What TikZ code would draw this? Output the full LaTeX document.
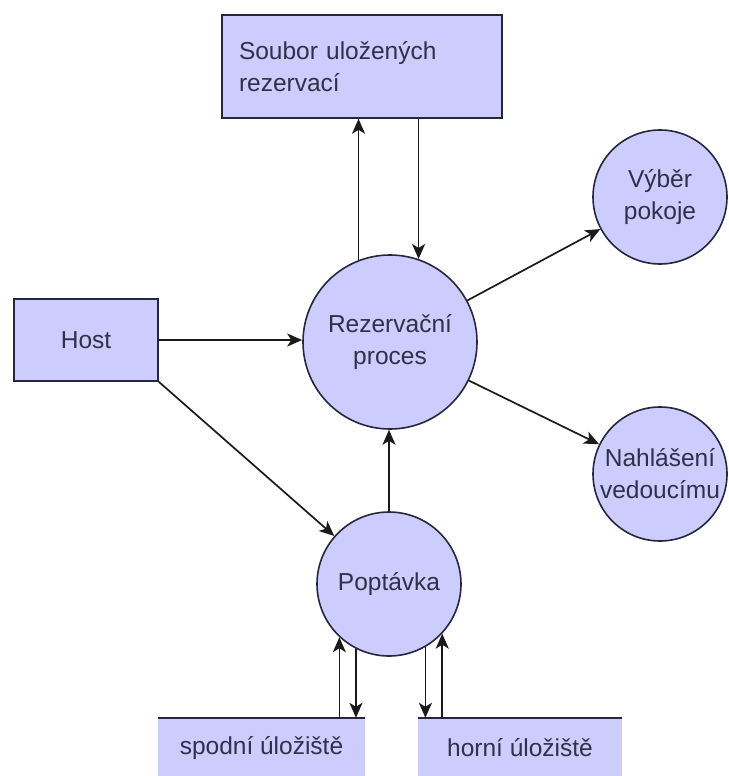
\documentclass[tikz,border=0pt]{standalone}
\usepackage{fontspec}
\setmainfont{Liberation Sans}
\usetikzlibrary{arrows.meta}
\definecolor{boxfill}{HTML}{CCCCFF}
\definecolor{boxline}{HTML}{26263E}
\definecolor{labeltext}{HTML}{303048}
\definecolor{flowline}{HTML}{1A1A1A}
\tikzset{
  lbl/.style={font=\fontsize{24.5}{32}\selectfont, text=labeltext, align=center},
  proc/.style={lbl, circle, draw=boxline, fill=boxfill, line width=1.6pt, inner sep=0pt},
  entity/.style={lbl, rectangle, draw=boxline, fill=boxfill, line width=1.6pt, inner sep=0pt},
  store/.style={lbl, rectangle, fill=boxfill, inner sep=0pt},
  flow/.style={draw=flowline, line width=1.7pt, -{Stealth[length=15pt,width=13pt,inset=4pt]}}
}
\begin{document}
\begin{tikzpicture}[x=1pt, y=-1pt]
  \useasboundingbox (0,0) rectangle (728,776);

  % data store and external entity
  \node[entity, minimum width=280, minimum height=103, text width=246, align=left,
        inner xsep=17pt] (soubor) at (362,66.5) {Soubor uložených\\rezervací};
  \node[entity, minimum width=144, minimum height=82] (host) at (86,340) {Host};

  % processes
  \node[proc, minimum size=174] (rez) at (390,342) {Rezervační\\proces};
  \node[proc, minimum size=134] (vyber) at (660,197) {Výběr\\pokoje};
  \node[proc, minimum size=134] (nahl) at (660,474) {Nahlášení\\vedoucímu};
  \node[proc, minimum size=144] (popt) at (389,584) {Poptávka};

  % storages (open data stores, top edge only)
  \node[store, minimum width=207, minimum height=60] (spodni) at (261.5,748) {spodní úložiště};
  \node[store, minimum width=204, minimum height=60] (horni) at (520,748) {horní úložiště};
  \draw[boxline, line width=1.6pt] (spodni.north west) -- (spodni.north east);
  \draw[boxline, line width=1.6pt] (horni.north west) -- (horni.north east);

  % flows between process and data file
  \draw[flow] (rez.111.6) -- (rez.111.6 |- soubor.south);
  \draw[flow] (soubor.south -| rez.71.2) -- (rez.71.2);

  % flows from the guest
  \draw[flow] (host.east) -- (host.east -| rez.west);
  \draw[flow] (host.south east) -- (popt);

  % inquiry into reservation process
  \draw[flow] (popt.north) -- (popt.north |- rez.south);

  % outgoing processes
  \draw[flow] (rez) -- (vyber);
  \draw[flow] (rez) -- (nahl);

  % storages and inquiry
  \draw[flow] (spodni.north -| popt.227.1) -- (popt.227.1);
  \draw[flow] (popt.243.6) -- (popt.243.6 |- spodni.north);
  \draw[flow] (popt.300) -- (popt.300 |- horni.north);
  \draw[flow] (horni.north -| popt.317.4) -- (popt.317.4);
\end{tikzpicture}
\end{document}
